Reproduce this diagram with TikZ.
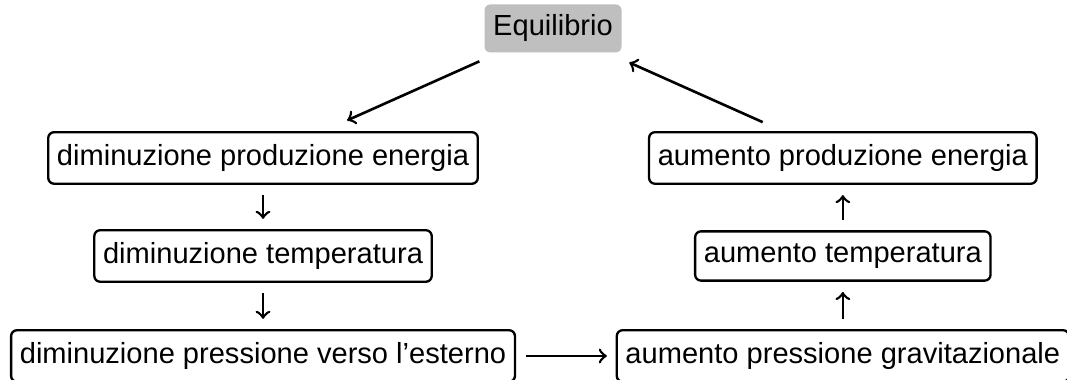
\documentclass[tikz,border=0pt]{standalone}
\usepackage{fontspec}
\setmainfont{Liberation Sans}
\begin{document}
\begin{tikzpicture}[box/.style = {draw, line width = 0.8pt, rounded corners = 2pt, inner xsep = 3pt, inner ysep = 4.2pt},
		freccia/.style = {->, line width = 0.9pt}]
		\useasboundingbox (0, 0) rectangle (12.90, 4.594);
		\node[fill = gray!50, rounded corners = 2pt, inner xsep = 3pt, inner ysep = 3.6pt] (eq) at (6.686, 4.250) {Equilibrio};
		\node[box] (dpe) at (3.18, 2.684) {diminuzione produzione energia};
		\node[box] (dt) at (3.18, 1.499) {diminuzione temperatura};
		\node[box] (dp) at (3.18, 0.290) {diminuzione pressione verso l'esterno};
		\node[box] (ape) at (10.19, 2.684) {aumento produzione energia};
		\node[box] (at) at (10.19, 1.499) {aumento temperatura};
		\node[box] (ap) at (10.19, 0.290) {aumento pressione gravitazionale};
		\draw[freccia, shorten <= 7pt, shorten >= 9pt] (eq) -- (dpe);
		\draw[freccia, shorten <= 3.5pt, shorten >= 3.5pt] (dpe) -- (dt);
		\draw[freccia, shorten <= 3.5pt, shorten >= 3.5pt] (dt) -- (dp);
		\draw[freccia, shorten <= 3.5pt, shorten >= 3pt] (dp) -- (ap);
		\draw[freccia, shorten <= 3.5pt, shorten >= 3.5pt] (ap) -- (at);
		\draw[freccia, shorten <= 3.5pt, shorten >= 3.5pt] (at) -- (ape);
		\draw[freccia, shorten <= 7.5pt, shorten >= 8pt] (ape) -- (eq);
	\end{tikzpicture}
\end{document}
